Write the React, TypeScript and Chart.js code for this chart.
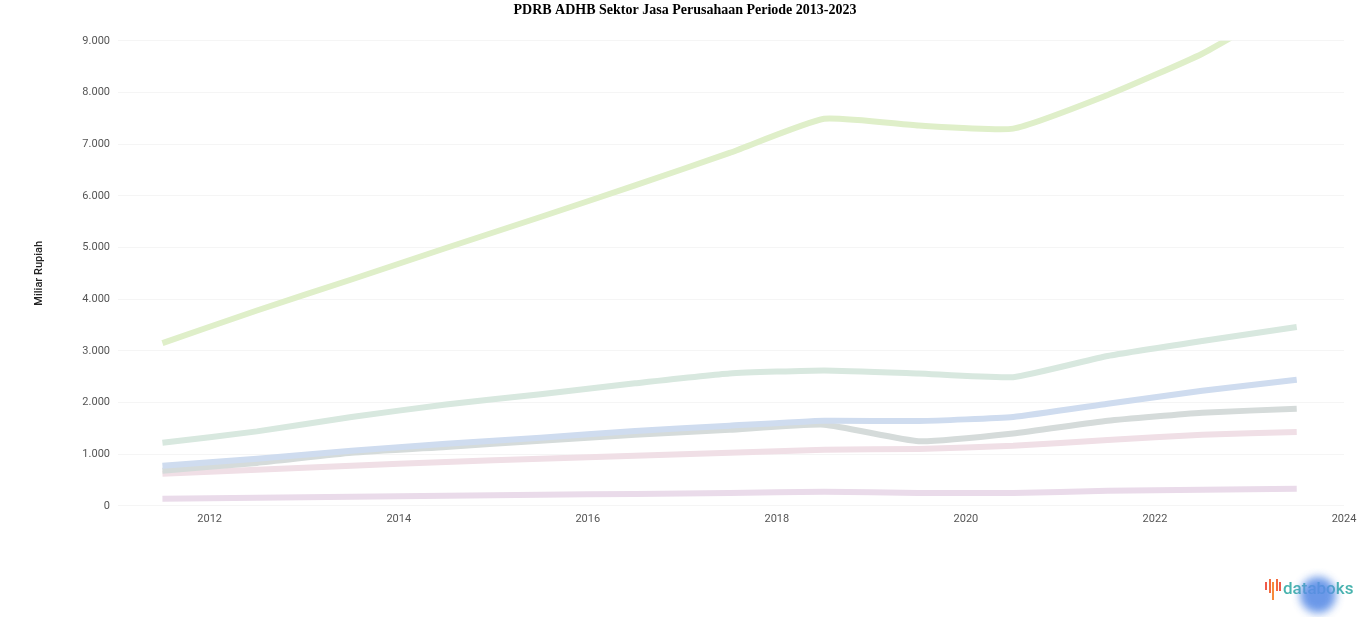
import React, { useEffect, useRef } from "react";
import { Chart, registerables } from "chart.js";

Chart.register(...registerables);

const TITLE = "PDRB ADHB Sektor Jasa Perusahaan Periode 2013-2023";
const Y_TITLE = "Miliar Rupiah";

const years = [2011, 2012, 2013, 2014, 2015, 2016, 2017, 2018, 2019, 2020, 2021, 2022, 2023];
const xTickYears = [2012, 2014, 2016, 2018, 2020, 2022, 2024];

const seriesGreen = [3150, 3780, 4380, 4990, 5590, 6200, 6830, 7490, 7360, 7300, 7950, 8750, 9800];
const seriesTeal = [1220, 1440, 1720, 1960, 2160, 2370, 2560, 2620, 2560, 2490, 2900, 3190, 3460];
const seriesBlue = [775, 910, 1065, 1200, 1315, 1450, 1550, 1645, 1640, 1720, 1975, 2225, 2440];
const seriesGrey = [680, 830, 1025, 1140, 1260, 1375, 1470, 1570, 1250, 1400, 1645, 1800, 1880];
const seriesPink = [620, 700, 775, 850, 910, 970, 1025, 1085, 1100, 1160, 1275, 1375, 1430];
const seriesPurple = [135, 155, 175, 195, 215, 230, 250, 270, 250, 250, 290, 310, 330];

const seriesList = [
  { name: "A", values: seriesGreen, color: "#dfefc9" },
  { name: "B", values: seriesTeal, color: "#d8e8df" },
  { name: "C", values: seriesBlue, color: "#cfdcef" },
  { name: "D", values: seriesGrey, color: "#d5dbda" },
  { name: "E", values: seriesPink, color: "#f0dfe6" },
  { name: "F", values: seriesPurple, color: "#eadbea" },
];

const fmt = (v: number) => String(v).replace(/\B(?=(\d{3})+(?!\d))/g, ".");

export default function App() {
  const ref = useRef<HTMLCanvasElement | null>(null);

  useEffect(() => {
    if (!ref.current) return;
    const chart = new Chart(ref.current, {
      type: "line",
      data: {
        datasets: seriesList.map((s) => ({
          label: s.name,
          data: years.map((y, i) => ({ x: y + 0.5, y: s.values[i] })),
          borderColor: s.color,
          backgroundColor: s.color,
          borderWidth: 6,
          pointRadius: 0,
          tension: 0.15,
          fill: false,
        })),
      },
      options: {
        animation: false,
        responsive: true,
        maintainAspectRatio: false,
        layout: { padding: { left: 26, right: 22, top: 0, bottom: 84 } },
        plugins: {
          legend: { display: false },
          tooltip: { enabled: false },
          title: {
            display: true,
            text: TITLE,
            color: "#000",
            font: { family: "Liberation Serif", size: 14, weight: "bold" },
            padding: { top: 2, bottom: 22 },
          },
        },
        scales: {
          x: {
            type: "linear",
            min: 2011.03,
            max: 2024,
            grid: { display: false, drawTicks: false },
            border: { display: false },
            afterBuildTicks: (s: any) => {
              s.ticks = xTickYears.map((v) => ({ value: v }));
            },
            ticks: {
              autoSkip: false,
              maxRotation: 0,
              padding: 7,
              color: "#555",
              font: { family: "Roboto", size: 11 },
              callback: (v: any) => String(v),
            },
          },
          y: {
            min: 0,
            max: 9000,
            afterFit: (s: any) => {
              s.width = 92;
            },
            grid: { color: "rgba(0,0,0,0.04)", drawTicks: false },
            border: { display: false },
            title: {
              display: true,
              text: Y_TITLE,
              color: "#222",
              font: { family: "Roboto", size: 11, weight: "500" },
              padding: { top: 7, bottom: 4 },
            },
            ticks: {
              stepSize: 1000,
              padding: 8,
              color: "#555",
              font: { family: "Roboto", size: 11 },
              callback: (v: any) => fmt(Number(v)),
            },
          },
        },
      },
    } as any);
    return () => chart.destroy();
  }, []);

  const bars = [
    { h: 8, c: "#f05a4a" },
    { h: 14, c: "#f36b3f" },
    { h: 18, c: "#f7893a" },
    { h: 12, c: "#f36b3f" },
    { h: 9, c: "#f05a4a" },
  ];

  return (
    <div style={{ position: "fixed", left: 0, top: 0, width: 1366, height: 617, background: "#fff" }}>
      <canvas ref={ref} />
      <div
        style={{
          position: "absolute",
          left: 1265,
          top: 577,
          display: "flex",
          alignItems: "center",
          height: 22,
        }}
      >
        <div style={{ display: "flex", alignItems: "flex-start", gap: 1.5, height: 18, marginRight: 2 }}>
          {bars.map((b, i) => (
            <div key={i} style={{ width: 2, height: b.h, background: b.c, marginTop: i % 2 ? 0 : 3 }} />
          ))}
        </div>
        <span style={{ fontFamily: "Roboto", fontSize: 17, fontWeight: 500, color: "#48b3ae", lineHeight: "22px" }}>
          databoks
        </span>
      </div>
      <div
        style={{
          position: "absolute",
          left: 1300,
          top: 577,
          width: 36,
          height: 36,
          borderRadius: "50%",
          background: "#5b8de6",
          filter: "blur(4px)",
          opacity: 0.9,
        }}
      />
    </div>
  );
}
